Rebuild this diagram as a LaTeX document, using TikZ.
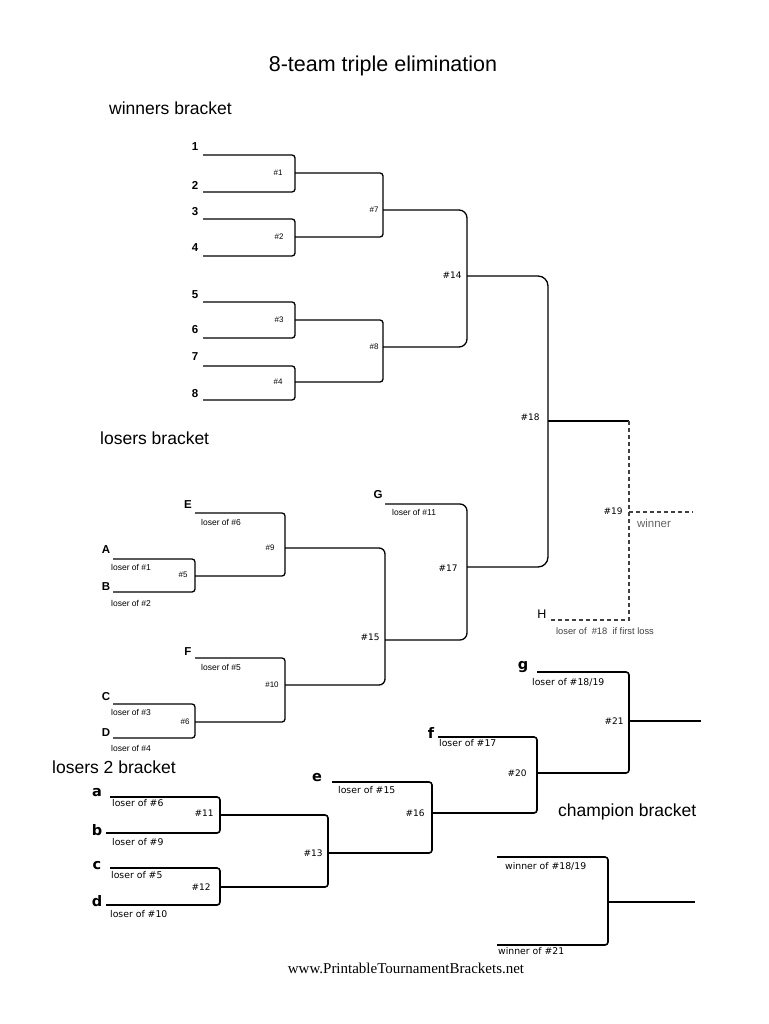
\documentclass[tikz,border=0pt]{standalone}
\usepackage{fontspec}
\setmainfont{Liberation Sans}
\newfontfamily\dejavu{DejaVu Sans}
\newfontfamily\webserif{Liberation Serif}
\newcommand{\fsz}[1]{\fontsize{#1}{#1}\selectfont}
\tikzset{
  bracket/.style={line width=1.3pt, rounded corners=3pt},
  bold_bracket/.style={line width=1.6pt, rounded corners=3pt},
  dash_line/.style={line width=1.1pt, dash pattern=on 4pt off 3pt, draw=black!75},
  team/.style={font=\bfseries\fsz{11.5}, inner sep=0pt},
  small_team/.style={font=\dejavu\bfseries\fsz{14.5}, inner sep=0pt},
  game/.style={font=\fsz{8}, inner sep=0pt},
  game_dv/.style={font=\dejavu\fsz{9}, inner sep=0pt},
  from_note/.style={font=\fsz{8.5}, anchor=west, inner sep=0pt},
  from_note_dv/.style={font=\dejavu\fsz{9.3}, anchor=west, inner sep=0pt},
  heading/.style={font=\fsz{17.5}, anchor=west, inner sep=0pt}
}
\begin{document}
\begin{tikzpicture}[x=1pt, y=-1pt]
    \fill[white] (0,0) rectangle (768,1024);
    \useasboundingbox (0,0) rectangle (768,1024);

    % headings
    \node[font=\fsz{21.5}, inner sep=0pt] (title) at (383,66) {8-team triple elimination};
    \node[heading] (win_head) at (109,108) {winners bracket};
    \node[heading] (los_head) at (100,438) {losers bracket};
    \node[heading] (los2_head) at (52,767) {losers 2 bracket};
    \node[heading] (champ_head) at (558,812) {champion bracket};

    % winners bracket
    \node[team] (t1) at (195,147) {1};
    \node[team] (t2) at (195,185) {2};
    \node[team] (t3) at (195,212) {3};
    \node[team] (t4) at (195,248) {4};
    \node[team] (t5) at (195,295) {5};
    \node[team] (t6) at (195,330) {6};
    \node[team] (t7) at (195,357) {7};
    \node[team] (t8) at (195,394) {8};
    \coordinate (s1) at (203,155);
    \coordinate (s2) at (203,192);
    \coordinate (s3) at (203,219);
    \coordinate (s4) at (203,256);
    \coordinate (s5) at (203,302);
    \coordinate (s6) at (203,338);
    \coordinate (s7) at (203,366);
    \coordinate (s8) at (203,400);
    \coordinate (m1) at (295,173);
    \coordinate (m2) at (295,237);
    \coordinate (m3) at (295,320);
    \coordinate (m4) at (295,382);
    \coordinate (m7) at (383,210);
    \coordinate (m8) at (383,347);
    \coordinate (m14) at (467,276);
    \coordinate (m18) at (548,421);
    \coordinate (c19) at (629,421);
    \coordinate (m19) at (629,512);
    \coordinate (e19) at (693,512);
    \node[game] (g1) at (278,173) {\#1};
    \node[game] (g2) at (279,237) {\#2};
    \node[game] (g3) at (279,320) {\#3};
    \node[game] (g4) at (278,382) {\#4};
    \node[game] (g7) at (374,210) {\#7};
    \node[game] (g8) at (374,347) {\#8};
    \node[game_dv] (g14) at (452,275) {\#14};
    \node[game_dv] (g18) at (530,417) {\#18};
    \node[game_dv] (g19) at (613,511) {\#19};
    \node[font=\fsz{11.5}, text=black!60, inner sep=0pt] (winner) at (654,523) {winner};

    \draw[bracket] (s1) -| (m1) |- (s2);
    \draw[bracket] (s3) -| (m2) |- (s4);
    \draw[bracket] (s5) -| (m3) |- (s6);
    \draw[bracket] (s7) -| (m4) |- (s8);
    \draw[bracket] (m1) -| (m7) |- (m2);
    \draw[bracket] (m3) -| (m8) |- (m4);
    \draw[bracket, rounded corners=8pt] (m7) -| (m14) |- (m8);

    % losers bracket
    \node[team] (tE) at (188,505) {E};
    \node[team] (tA) at (106,550) {A};
    \node[team] (tB) at (106,587) {B};
    \node[team] (tF) at (188,652) {F};
    \node[team] (tC) at (106,697) {C};
    \node[team] (tD) at (106,733) {D};
    \node[team] (tG) at (378,495) {G};
    \node[font=\fsz{12.5}, inner sep=0pt] (tH) at (542,614) {H};
    \coordinate (sE) at (195,513);
    \coordinate (sA) at (113,559);
    \coordinate (sB) at (113,592);
    \coordinate (sF) at (195,658);
    \coordinate (sC) at (113,704);
    \coordinate (sD) at (113,738);
    \coordinate (sG) at (385,504);
    \coordinate (sH) at (548,620);
    \coordinate (m5) at (195,576);
    \coordinate (m6) at (195,722);
    \coordinate (m9) at (285,548);
    \coordinate (m10) at (285,685);
    \coordinate (m15) at (385,640);
    \coordinate (m17) at (467,567);
    \node[from_note] (nE) at (201,522) {loser of \#6};
    \node[from_note] (nA) at (111,567) {loser of \#1};
    \node[from_note] (nB) at (111,603) {loser of \#2};
    \node[from_note] (nF) at (201,667) {loser of \#5};
    \node[from_note] (nC) at (111,712) {loser of \#3};
    \node[from_note] (nD) at (111,748) {loser of \#4};
    \node[from_note] (nG) at (392,512) {loser of \#11};
    \node[font=\fsz{9.3}, text=black!75, inner sep=0pt] (nH) at (605,631) {loser of \ \#18 \ if first loss};
    \node[game] (g5) at (183,575) {\#5};
    \node[game] (g6) at (185,722) {\#6};
    \node[game] (g9) at (270,548) {\#9};
    \node[game] (g10) at (272,685) {\#10};
    \node[game_dv] (g15) at (370,637) {\#15};
    \node[game_dv] (g17) at (448,568) {\#17};

    \draw[bracket] (sA) -| (m5) |- (sB);
    \draw[bracket] (sC) -| (m6) |- (sD);
    \draw[bracket] (sE) -| (m9) |- (m5);
    \draw[bracket] (sF) -| (m10) |- (m6);
    \draw[bracket, rounded corners=6pt] (m9) -| (m15) |- (m10);
    \draw[bracket, rounded corners=7pt] (sG) -| (m17) |- (m15);
    \draw[bracket, rounded corners=10pt] (m14) -| (m18) |- (m17);
    \draw[bracket, rounded corners=0pt] (m18) -- (c19);
    \draw[dash_line] (c19) |- (sH);
    \draw[dash_line] (m19) -- (e19);

    % losers 2 bracket
    \node[small_team] (ta) at (97,793) {a};
    \node[small_team] (tb) at (97,830) {b};
    \node[small_team] (tc) at (97,866) {c};
    \node[small_team] (td) at (97,901) {d};
    \node[small_team] (te) at (317,778) {e};
    \node[small_team] (tf) at (431,733) {f};
    \node[small_team] (tg) at (523,667) {g};
    \coordinate (sa) at (110,797);
    \coordinate (sb) at (106,833);
    \coordinate (sc) at (110,868);
    \coordinate (sd) at (106,905);
    \coordinate (se) at (332,782);
    \coordinate (sf) at (438,737);
    \coordinate (sg) at (537,672);
    \coordinate (m11) at (220,815);
    \coordinate (m12) at (220,887);
    \coordinate (m13) at (328,853);
    \coordinate (m16) at (432,813);
    \coordinate (m20) at (537,773);
    \coordinate (m21) at (629,721);
    \coordinate (e21) at (701,721);
    \node[from_note_dv] (na) at (112,803) {loser of \#6};
    \node[from_note_dv] (nb) at (112,842) {loser of \#9};
    \node[from_note_dv] (nc) at (111,875) {loser of \#5};
    \node[from_note_dv] (nd) at (110,914) {loser of \#10};
    \node[from_note_dv] (ne) at (338,790) {loser of \#15};
    \node[from_note_dv] (nf) at (439,743) {loser of \#17};
    \node[from_note_dv] (ng) at (532,682) {loser of \#18/19};
    \node[game_dv] (g11) at (204,813) {\#11};
    \node[game_dv] (g12) at (201,887) {\#12};
    \node[game_dv] (g13) at (313,853) {\#13};
    \node[game_dv] (g16) at (415,813) {\#16};
    \node[game_dv] (g20) at (517,773) {\#20};
    \node[game_dv] (g21) at (614,721) {\#21};

    \draw[bold_bracket] (sa) -| (m11) |- (sb);
    \draw[bold_bracket] (sc) -| (m12) |- (sd);
    \draw[bold_bracket] (m11) -| (m13) |- (m12);
    \draw[bold_bracket] (se) -| (m16) |- (m13);
    \draw[bold_bracket] (sf) -| (m20) |- (m16);
    \draw[bold_bracket] (sg) -| (m21) |- (m20);
    \draw[bold_bracket] (m21) -- (e21);

    % champion bracket
    \coordinate (sw1) at (497,857);
    \coordinate (sw2) at (497,945);
    \coordinate (mc) at (608,902);
    \coordinate (ec) at (695,902);
    \node[from_note_dv] (nw1) at (505,866) {winner of \#18/19};
    \node[from_note_dv] (nw2) at (498,951) {winner of \#21};
    \draw[bold_bracket] (sw1) -| (mc) |- (sw2);
    \draw[bold_bracket] (mc) -- (ec);

    \node[font=\webserif\fsz{15}, inner sep=0pt] (site) at (406,968) {www.PrintableTournamentBrackets.net};
\end{tikzpicture}
\end{document}
